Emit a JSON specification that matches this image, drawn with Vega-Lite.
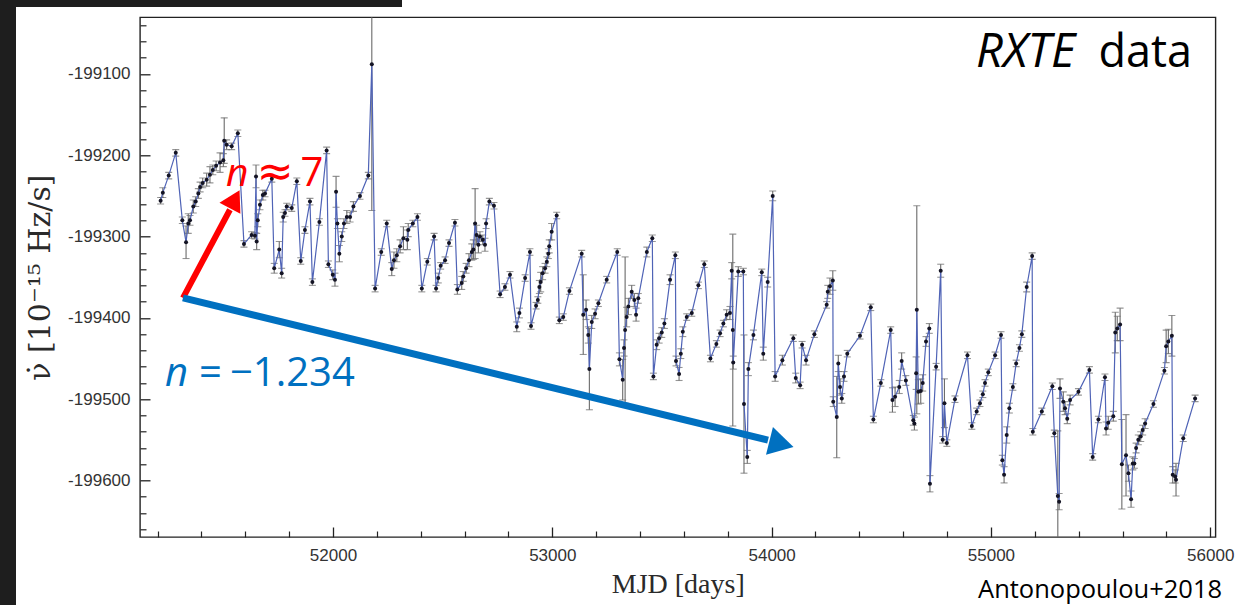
{
  "$schema": "https://vega.github.io/schema/vega-lite/v6.json",
  "width": 1075.5,
  "height": 519.7,
  "autosize": {"type": "none"},
  "padding": {"left": 140, "top": 17.3, "right": 21.5, "bottom": 68},
  "background": "white",
  "datasets": {
    "pts": [
      {"mjd":51214,"nudot":-199256,"err":4},{"mjd":51224,"nudot":-199246,"err":6},{"mjd":51251,"nudot":-199225,"err":4},{"mjd":51283,"nudot":-199197,"err":4},{"mjd":51313,"nudot":-199280,"err":4},{"mjd":51330,"nudot":-199307,"err":20},{"mjd":51340,"nudot":-199284,"err":12},{"mjd":51348,"nudot":-199280,"err":6},{"mjd":51363,"nudot":-199263,"err":8},{"mjd":51374,"nudot":-199257,"err":6},
      {"mjd":51386,"nudot":-199247,"err":6},{"mjd":51394,"nudot":-199239,"err":6},{"mjd":51406,"nudot":-199234,"err":6},{"mjd":51424,"nudot":-199230,"err":8},{"mjd":51439,"nudot":-199224,"err":10},{"mjd":51452,"nudot":-199218,"err":6},{"mjd":51467,"nudot":-199213,"err":6},{"mjd":51485,"nudot":-199209,"err":12},{"mjd":51500,"nudot":-199206,"err":8},{"mjd":51504,"nudot":-199182,"err":28},
      {"mjd":51515,"nudot":-199187,"err":6},{"mjd":51538,"nudot":-199189,"err":4},{"mjd":51566,"nudot":-199173,"err":4},{"mjd":51594,"nudot":-199309,"err":4},{"mjd":51629,"nudot":-199298,"err":4},{"mjd":51644,"nudot":-199299,"err":4},{"mjd":51649,"nudot":-199226,"err":14},{"mjd":51652,"nudot":-199306,"err":10},{"mjd":51657,"nudot":-199280,"err":8},{"mjd":51667,"nudot":-199261,"err":6},
      {"mjd":51680,"nudot":-199249,"err":6},{"mjd":51690,"nudot":-199247,"err":4},{"mjd":51721,"nudot":-199229,"err":4},{"mjd":51732,"nudot":-199339,"err":6},{"mjd":51755,"nudot":-199316,"err":10},{"mjd":51766,"nudot":-199345,"err":6},{"mjd":51773,"nudot":-199276,"err":6},{"mjd":51781,"nudot":-199271,"err":4},{"mjd":51789,"nudot":-199263,"err":4},{"mjd":51812,"nudot":-199265,"err":4},
      {"mjd":51835,"nudot":-199232,"err":4},{"mjd":51853,"nudot":-199330,"err":4},{"mjd":51872,"nudot":-199292,"err":4},{"mjd":51895,"nudot":-199257,"err":4},{"mjd":51906,"nudot":-199356,"err":4},{"mjd":51938,"nudot":-199282,"err":4},{"mjd":51971,"nudot":-199194,"err":4},{"mjd":51979,"nudot":-199334,"err":4},{"mjd":51999,"nudot":-199347,"err":6},{"mjd":52009,"nudot":-199353,"err":8},
      {"mjd":52014,"nudot":-199245,"err":19},{"mjd":52020,"nudot":-199284,"err":6},{"mjd":52029,"nudot":-199321,"err":10},{"mjd":52040,"nudot":-199300,"err":6},{"mjd":52050,"nudot":-199284,"err":6},{"mjd":52063,"nudot":-199276,"err":8},{"mjd":52078,"nudot":-199276,"err":6},{"mjd":52093,"nudot":-199263,"err":6},{"mjd":52123,"nudot":-199250,"err":4},{"mjd":52161,"nudot":-199225,"err":4},
      {"mjd":52177,"nudot":-199088,"err":180},{"mjd":52192,"nudot":-199364,"err":4},{"mjd":52220,"nudot":-199319,"err":4},{"mjd":52245,"nudot":-199284,"err":4},{"mjd":52268,"nudot":-199340,"err":8},{"mjd":52278,"nudot":-199329,"err":10},{"mjd":52291,"nudot":-199323,"err":8},{"mjd":52306,"nudot":-199312,"err":8},{"mjd":52321,"nudot":-199302,"err":14},{"mjd":52339,"nudot":-199304,"err":12},
      {"mjd":52343,"nudot":-199292,"err":8},{"mjd":52364,"nudot":-199284,"err":4},{"mjd":52385,"nudot":-199276,"err":4},{"mjd":52405,"nudot":-199364,"err":4},{"mjd":52430,"nudot":-199331,"err":4},{"mjd":52461,"nudot":-199300,"err":4},{"mjd":52470,"nudot":-199364,"err":4},{"mjd":52480,"nudot":-199351,"err":6},{"mjd":52491,"nudot":-199336,"err":4},{"mjd":52511,"nudot":-199329,"err":4},
      {"mjd":52529,"nudot":-199308,"err":4},{"mjd":52556,"nudot":-199283,"err":4},{"mjd":52567,"nudot":-199365,"err":6},{"mjd":52587,"nudot":-199357,"err":8},{"mjd":52594,"nudot":-199349,"err":6},{"mjd":52607,"nudot":-199339,"err":6},{"mjd":52620,"nudot":-199329,"err":8},{"mjd":52633,"nudot":-199319,"err":10},{"mjd":52640,"nudot":-199316,"err":12},{"mjd":52648,"nudot":-199284,"err":43},
      {"mjd":52655,"nudot":-199298,"err":12},{"mjd":52663,"nudot":-199310,"err":10},{"mjd":52670,"nudot":-199300,"err":6},{"mjd":52683,"nudot":-199304,"err":6},{"mjd":52693,"nudot":-199310,"err":8},{"mjd":52698,"nudot":-199284,"err":6},{"mjd":52713,"nudot":-199257,"err":4},{"mjd":52734,"nudot":-199262,"err":4},{"mjd":52762,"nudot":-199371,"err":4},{"mjd":52784,"nudot":-199362,"err":4},
      {"mjd":52807,"nudot":-199347,"err":4},{"mjd":52838,"nudot":-199411,"err":6},{"mjd":52850,"nudot":-199394,"err":6},{"mjd":52876,"nudot":-199351,"err":4},{"mjd":52898,"nudot":-199319,"err":4},{"mjd":52903,"nudot":-199410,"err":4},{"mjd":52926,"nudot":-199385,"err":4},{"mjd":52934,"nudot":-199378,"err":4},{"mjd":52941,"nudot":-199362,"err":8},{"mjd":52947,"nudot":-199356,"err":12},
      {"mjd":52956,"nudot":-199345,"err":8},{"mjd":52967,"nudot":-199339,"err":6},{"mjd":52975,"nudot":-199331,"err":6},{"mjd":52982,"nudot":-199321,"err":6},{"mjd":52986,"nudot":-199312,"err":8},{"mjd":52997,"nudot":-199294,"err":10},{"mjd":53020,"nudot":-199274,"err":4},{"mjd":53032,"nudot":-199403,"err":4},{"mjd":53050,"nudot":-199399,"err":4},{"mjd":53078,"nudot":-199367,"err":4},
      {"mjd":53134,"nudot":-199321,"err":4},{"mjd":53141,"nudot":-199396,"err":49},{"mjd":53154,"nudot":-199390,"err":12},{"mjd":53164,"nudot":-199421,"err":10},{"mjd":53169,"nudot":-199463,"err":50},{"mjd":53180,"nudot":-199405,"err":8},{"mjd":53195,"nudot":-199395,"err":6},{"mjd":53210,"nudot":-199382,"err":4},{"mjd":53248,"nudot":-199353,"err":4},{"mjd":53296,"nudot":-199319,"err":4},
      {"mjd":53306,"nudot":-199451,"err":8},{"mjd":53321,"nudot":-199476,"err":25},{"mjd":53327,"nudot":-199437,"err":10},{"mjd":53332,"nudot":-199415,"err":90},{"mjd":53339,"nudot":-199399,"err":12},{"mjd":53347,"nudot":-199386,"err":10},{"mjd":53362,"nudot":-199368,"err":8},{"mjd":53374,"nudot":-199378,"err":8},{"mjd":53382,"nudot":-199396,"err":8},{"mjd":53392,"nudot":-199376,"err":6},
      {"mjd":53431,"nudot":-199319,"err":6},{"mjd":53456,"nudot":-199302,"err":4},{"mjd":53461,"nudot":-199472,"err":4},{"mjd":53476,"nudot":-199433,"err":6},{"mjd":53487,"nudot":-199425,"err":6},{"mjd":53499,"nudot":-199418,"err":6},{"mjd":53511,"nudot":-199407,"err":6},{"mjd":53537,"nudot":-199353,"err":6},{"mjd":53561,"nudot":-199323,"err":4},{"mjd":53564,"nudot":-199453,"err":6},
      {"mjd":53578,"nudot":-199469,"err":8},{"mjd":53586,"nudot":-199444,"err":6},{"mjd":53595,"nudot":-199417,"err":6},{"mjd":53613,"nudot":-199399,"err":4},{"mjd":53636,"nudot":-199394,"err":4},{"mjd":53666,"nudot":-199360,"err":4},{"mjd":53693,"nudot":-199334,"err":4},{"mjd":53721,"nudot":-199450,"err":4},{"mjd":53748,"nudot":-199432,"err":4},{"mjd":53765,"nudot":-199419,"err":4},
      {"mjd":53780,"nudot":-199407,"err":4},{"mjd":53795,"nudot":-199396,"err":6},{"mjd":53810,"nudot":-199394,"err":8},{"mjd":53818,"nudot":-199342,"err":10},{"mjd":53823,"nudot":-199415,"err":118},{"mjd":53825,"nudot":-199455,"err":8},{"mjd":53848,"nudot":-199343,"err":6},{"mjd":53871,"nudot":-199343,"err":4},{"mjd":53874,"nudot":-199506,"err":85},{"mjd":53889,"nudot":-199571,"err":8},
      {"mjd":53894,"nudot":-199463,"err":8},{"mjd":53917,"nudot":-199421,"err":6},{"mjd":53955,"nudot":-199344,"err":4},{"mjd":53962,"nudot":-199444,"err":8},{"mjd":53982,"nudot":-199356,"err":6},{"mjd":54005,"nudot":-199250,"err":6},{"mjd":54016,"nudot":-199472,"err":6},{"mjd":54049,"nudot":-199452,"err":6},{"mjd":54099,"nudot":-199425,"err":4},{"mjd":54110,"nudot":-199474,"err":6},
      {"mjd":54130,"nudot":-199483,"err":4},{"mjd":54139,"nudot":-199433,"err":4},{"mjd":54157,"nudot":-199452,"err":6},{"mjd":54195,"nudot":-199420,"err":4},{"mjd":54251,"nudot":-199384,"err":4},{"mjd":54256,"nudot":-199368,"err":8},{"mjd":54266,"nudot":-199361,"err":10},{"mjd":54279,"nudot":-199354,"err":12},{"mjd":54281,"nudot":-199503,"err":6},{"mjd":54297,"nudot":-199522,"err":50},
      {"mjd":54304,"nudot":-199456,"err":10},{"mjd":54312,"nudot":-199485,"err":10},{"mjd":54320,"nudot":-199499,"err":6},{"mjd":54330,"nudot":-199472,"err":6},{"mjd":54345,"nudot":-199444,"err":4},{"mjd":54403,"nudot":-199422,"err":4},{"mjd":54452,"nudot":-199387,"err":4},{"mjd":54464,"nudot":-199525,"err":4},{"mjd":54498,"nudot":-199480,"err":4},{"mjd":54543,"nudot":-199415,"err":4},
      {"mjd":54551,"nudot":-199501,"err":15},{"mjd":54563,"nudot":-199497,"err":12},{"mjd":54582,"nudot":-199485,"err":8},{"mjd":54593,"nudot":-199453,"err":10},{"mjd":54612,"nudot":-199477,"err":6},{"mjd":54646,"nudot":-199526,"err":6},{"mjd":54651,"nudot":-199530,"err":8},{"mjd":54659,"nudot":-199468,"err":20},{"mjd":54662,"nudot":-199390,"err":128},{"mjd":54669,"nudot":-199491,"err":15},
      {"mjd":54680,"nudot":-199490,"err":15},{"mjd":54689,"nudot":-199480,"err":10},{"mjd":54704,"nudot":-199429,"err":6},{"mjd":54719,"nudot":-199413,"err":6},{"mjd":54722,"nudot":-199604,"err":10},{"mjd":54750,"nudot":-199460,"err":4},{"mjd":54771,"nudot":-199342,"err":8},{"mjd":54780,"nudot":-199550,"err":4},{"mjd":54788,"nudot":-199505,"err":30},{"mjd":54799,"nudot":-199554,"err":4},
      {"mjd":54836,"nudot":-199500,"err":4},{"mjd":54893,"nudot":-199446,"err":4},{"mjd":54913,"nudot":-199533,"err":4},{"mjd":54935,"nudot":-199515,"err":4},{"mjd":54950,"nudot":-199505,"err":4},{"mjd":54963,"nudot":-199494,"err":4},{"mjd":54973,"nudot":-199480,"err":4},{"mjd":54988,"nudot":-199467,"err":4},{"mjd":55019,"nudot":-199446,"err":4},{"mjd":55046,"nudot":-199421,"err":4},
      {"mjd":55052,"nudot":-199575,"err":6},{"mjd":55060,"nudot":-199593,"err":10},{"mjd":55072,"nudot":-199544,"err":10},{"mjd":55084,"nudot":-199511,"err":6},{"mjd":55100,"nudot":-199485,"err":4},{"mjd":55115,"nudot":-199456,"err":4},{"mjd":55130,"nudot":-199437,"err":4},{"mjd":55141,"nudot":-199420,"err":4},{"mjd":55163,"nudot":-199362,"err":6},{"mjd":55188,"nudot":-199324,"err":4},
      {"mjd":55191,"nudot":-199540,"err":4},{"mjd":55232,"nudot":-199515,"err":4},{"mjd":55280,"nudot":-199484,"err":4},{"mjd":55289,"nudot":-199542,"err":4},{"mjd":55305,"nudot":-199619,"err":80},{"mjd":55311,"nudot":-199626,"err":10},{"mjd":55315,"nudot":-199487,"err":12},{"mjd":55330,"nudot":-199503,"err":12},{"mjd":55338,"nudot":-199511,"err":8},{"mjd":55348,"nudot":-199524,"err":6},
      {"mjd":55361,"nudot":-199501,"err":6},{"mjd":55399,"nudot":-199491,"err":4},{"mjd":55449,"nudot":-199464,"err":4},{"mjd":55464,"nudot":-199571,"err":4},{"mjd":55490,"nudot":-199525,"err":4},{"mjd":55520,"nudot":-199473,"err":4},{"mjd":55525,"nudot":-199536,"err":8},{"mjd":55535,"nudot":-199529,"err":8},{"mjd":55558,"nudot":-199521,"err":6},{"mjd":55567,"nudot":-199418,"err":25},
      {"mjd":55576,"nudot":-199413,"err":15},{"mjd":55589,"nudot":-199408,"err":20},{"mjd":55597,"nudot":-199580,"err":55},{"mjd":55616,"nudot":-199569,"err":50},{"mjd":55627,"nudot":-199591,"err":10},{"mjd":55639,"nudot":-199623,"err":10},{"mjd":55647,"nudot":-199579,"err":8},{"mjd":55654,"nudot":-199579,"err":6},{"mjd":55662,"nudot":-199560,"err":6},{"mjd":55672,"nudot":-199550,"err":6},
      {"mjd":55683,"nudot":-199546,"err":6},{"mjd":55692,"nudot":-199538,"err":6},{"mjd":55703,"nudot":-199530,"err":6},{"mjd":55741,"nudot":-199506,"err":4},{"mjd":55791,"nudot":-199465,"err":4},{"mjd":55799,"nudot":-199435,"err":20},{"mjd":55809,"nudot":-199429,"err":15},{"mjd":55825,"nudot":-199422,"err":25},{"mjd":55829,"nudot":-199593,"err":10},{"mjd":55840,"nudot":-199595,"err":8},
      {"mjd":55844,"nudot":-199599,"err":20},{"mjd":55877,"nudot":-199548,"err":4},{"mjd":55931,"nudot":-199499,"err":4}
    ]
  },
  "resolve": {"axis": {"x": "independent", "y": "independent"}},
  "layer": [
    {
      "data": {"values": [{}]},
      "mark": {"type": "rect", "color": "#1e1e1e", "clip": false},
      "encoding": {
        "x": {"datum": 50380, "type": "quantitative", "scale": {"domain": [51120, 56024], "nice": false, "zero": false}, "axis": null},
        "x2": {"datum": 50554.6},
        "y": {"datum": -198990, "type": "quantitative", "scale": {"domain": [-199669.5, -199030.3], "nice": false, "zero": false}, "axis": null},
        "y2": {"datum": -199780}
      }
    },
    {
      "data": {"values": [{}]},
      "mark": {"type": "rect", "color": "#1e1e1e", "clip": false},
      "encoding": {
        "x": {"datum": 50380, "type": "quantitative", "scale": {"domain": [51120, 56024], "nice": false, "zero": false}, "axis": null},
        "x2": {"datum": 52314.7},
        "y": {"datum": -198990, "type": "quantitative", "scale": {"domain": [-199669.5, -199030.3], "nice": false, "zero": false}, "axis": null},
        "y2": {"datum": -199017.6}
      }
    },
    {
      "data": {"name": "pts"},
      "mark": {"type": "errorbar", "ticks": {"size": 7, "color": "#6a6a6a"}, "color": "#6a6a6a", "thickness": 1.1, "clip": true},
      "encoding": {
        "x": {"field": "mjd", "type": "quantitative", "scale": {"domain": [51120, 56024], "nice": false, "zero": false},
              "axis": {"orient": "bottom", "values": [51200,51400,51600,51800,52200,52400,52600,52800,53200,53400,53600,53800,54200,54400,54600,54800,55200,55400,55600,55800], "labels": false, "tickSize": -6, "tickColor": "#222222", "tickWidth": 1.2, "domain": false, "grid": false, "title": null}},
        "y": {"field": "nudot", "type": "quantitative", "scale": {"domain": [-199669.5, -199030.3], "nice": false, "zero": false},
              "axis": {"orient": "left", "values": [-199660,-199640,-199620,-199580,-199560,-199540,-199520,-199480,-199460,-199440,-199420,-199380,-199360,-199340,-199320,-199280,-199260,-199240,-199220,-199180,-199160,-199140,-199120,-199080,-199060,-199040], "labels": false, "tickSize": -6, "tickColor": "#222222", "tickWidth": 1.2, "domain": false, "grid": false, "title": null}},
        "yError": {"field": "err"}
      }
    },
    {
      "data": {"name": "pts"},
      "mark": {"type": "line", "color": "#4f63b6", "strokeWidth": 1.2, "clip": true},
      "encoding": {
        "x": {"field": "mjd", "type": "quantitative", "scale": {"domain": [51120, 56024], "nice": false, "zero": false},
              "axis": {"orient": "bottom", "values": [52000, 53000, 54000, 55000, 56000], "format": "d", "ticks": false, "domain": false, "grid": false,
                       "labelFont": "Liberation Sans", "labelFontSize": 17, "labelColor": "#333333", "labelPadding": 10,
                       "title": "MJD [days]", "titleFont": "Liberation Serif", "titleFontSize": 28, "titleFontWeight": "normal", "titleColor": "#2a2a2a", "titlePadding": 7}},
        "y": {"field": "nudot", "type": "quantitative", "scale": {"domain": [-199669.5, -199030.3], "nice": false, "zero": false},
              "axis": {"orient": "left", "values": [-199600, -199500, -199400, -199300, -199200, -199100], "labelExpr": "'-' + format(abs(datum.value), 'd')", "ticks": false, "domain": false, "grid": false,
                       "labelFont": "Liberation Sans", "labelFontSize": 17, "labelColor": "#333333", "labelPadding": 10,
                       "title": "ν̇ [10⁻¹⁵ Hz/s]", "titleFont": "DejaVu Serif", "titleFontSize": 30, "titleFontWeight": "normal", "titleColor": "#2a2a2a", "titlePadding": 12}}
      }
    },
    {
      "data": {"name": "pts"},
      "mark": {"type": "point", "filled": true, "size": 16, "color": "#141424", "opacity": 1, "clip": true},
      "encoding": {
        "x": {"field": "mjd", "type": "quantitative", "scale": {"domain": [51120, 56024], "nice": false, "zero": false},
              "axis": {"orient": "bottom", "values": [52000, 53000, 54000, 55000, 56000], "labels": false, "tickSize": -10, "tickColor": "#222222", "tickWidth": 1.3, "domain": false, "grid": false, "title": null}},
        "y": {"field": "nudot", "type": "quantitative", "scale": {"domain": [-199669.5, -199030.3], "nice": false, "zero": false},
              "axis": {"orient": "left", "values": [-199600, -199500, -199400, -199300, -199200, -199100], "labels": false, "tickSize": -10, "tickColor": "#222222", "tickWidth": 1.3, "domain": false, "grid": false, "title": null}}
      }
    },
    {
      "data": {"values": [{}]},
      "mark": {"type": "rule", "color": "#ff0000", "strokeWidth": 6, "strokeCap": "butt", "clip": false},
      "encoding": {
        "x": {"datum": 51316, "type": "quantitative", "scale": {"domain": [51120, 56024], "nice": false, "zero": false}, "axis": null},
        "x2": {"datum": 51530},
        "y": {"datum": -199375.3, "type": "quantitative", "scale": {"domain": [-199669.5, -199030.3], "nice": false, "zero": false}, "axis": null},
        "y2": {"datum": -199267}
      }
    },
    {
      "data": {"values": [{}]},
      "mark": {"type": "point", "shape": "triangle-up", "filled": true, "color": "#ff0000", "opacity": 1, "size": 560, "angle": 28, "clip": false},
      "encoding": {
        "x": {"datum": 51552, "type": "quantitative", "scale": {"domain": [51120, 56024], "nice": false, "zero": false}, "axis": null},
        "y": {"datum": -199254, "type": "quantitative", "scale": {"domain": [-199669.5, -199030.3], "nice": false, "zero": false}, "axis": null}
      }
    },
    {
      "data": {"values": [{}]},
      "mark": {"type": "rule", "color": "#0070c0", "strokeWidth": 7, "strokeCap": "butt", "clip": false},
      "encoding": {
        "x": {"datum": 51316, "type": "quantitative", "scale": {"domain": [51120, 56024], "nice": false, "zero": false}, "axis": null},
        "x2": {"datum": 53983.7},
        "y": {"datum": -199375.3, "type": "quantitative", "scale": {"domain": [-199669.5, -199030.3], "nice": false, "zero": false}, "axis": null},
        "y2": {"datum": -199550.4}
      }
    },
    {
      "data": {"values": [{}]},
      "mark": {"type": "point", "shape": "triangle-up", "filled": true, "color": "#0070c0", "opacity": 1, "size": 820, "angle": 104, "clip": false},
      "encoding": {
        "x": {"datum": 54045, "type": "quantitative", "scale": {"domain": [51120, 56024], "nice": false, "zero": false}, "axis": null},
        "y": {"datum": -199555, "type": "quantitative", "scale": {"domain": [-199669.5, -199030.3], "nice": false, "zero": false}, "axis": null}
      }
    },
    {
      "data": {"values": [{}]},
      "mark": {"type": "text", "text": "n", "font": "Open Sans", "fontStyle": "italic", "fontSize": 39, "color": "#ff0000", "align": "left", "baseline": "alphabetic"},
      "encoding": {
        "x": {"datum": 51512, "type": "quantitative", "scale": {"domain": [51120, 56024], "nice": false, "zero": false}, "axis": null},
        "y": {"datum": -199237.6, "type": "quantitative", "scale": {"domain": [-199669.5, -199030.3], "nice": false, "zero": false}, "axis": null}
      }
    },
    {
      "data": {"values": [{}]},
      "mark": {"type": "text", "text": "≈", "font": "DejaVu Sans", "fontSize": 44, "color": "#ff0000", "align": "left", "baseline": "alphabetic"},
      "encoding": {
        "x": {"datum": 51652, "type": "quantitative", "scale": {"domain": [51120, 56024], "nice": false, "zero": false}, "axis": null},
        "y": {"datum": -199237.6, "type": "quantitative", "scale": {"domain": [-199669.5, -199030.3], "nice": false, "zero": false}, "axis": null}
      }
    },
    {
      "data": {"values": [{}]},
      "mark": {"type": "text", "text": "7", "font": "Open Sans", "fontSize": 40, "color": "#ff0000", "align": "left", "baseline": "alphabetic"},
      "encoding": {
        "x": {"datum": 51852, "type": "quantitative", "scale": {"domain": [51120, 56024], "nice": false, "zero": false}, "axis": null},
        "y": {"datum": -199237.6, "type": "quantitative", "scale": {"domain": [-199669.5, -199030.3], "nice": false, "zero": false}, "axis": null}
      }
    },
    {
      "data": {"values": [{}]},
      "mark": {"type": "text", "text": "n", "font": "Open Sans", "fontStyle": "italic", "fontSize": 40, "color": "#0070c0", "align": "left", "baseline": "alphabetic"},
      "encoding": {
        "x": {"datum": 51234, "type": "quantitative", "scale": {"domain": [51120, 56024], "nice": false, "zero": false}, "axis": null},
        "y": {"datum": -199483.4, "type": "quantitative", "scale": {"domain": [-199669.5, -199030.3], "nice": false, "zero": false}, "axis": null}
      }
    },
    {
      "data": {"values": [{}]},
      "mark": {"type": "text", "text": "=", "font": "Open Sans", "fontSize": 40, "color": "#0070c0", "align": "left", "baseline": "alphabetic"},
      "encoding": {
        "x": {"datum": 51389, "type": "quantitative", "scale": {"domain": [51120, 56024], "nice": false, "zero": false}, "axis": null},
        "y": {"datum": -199483.4, "type": "quantitative", "scale": {"domain": [-199669.5, -199030.3], "nice": false, "zero": false}, "axis": null}
      }
    },
    {
      "data": {"values": [{}]},
      "mark": {"type": "text", "text": "−1.234", "font": "Open Sans", "fontSize": 40, "color": "#0070c0", "align": "left", "baseline": "alphabetic"},
      "encoding": {
        "x": {"datum": 51530, "type": "quantitative", "scale": {"domain": [51120, 56024], "nice": false, "zero": false}, "axis": null},
        "y": {"datum": -199483.4, "type": "quantitative", "scale": {"domain": [-199669.5, -199030.3], "nice": false, "zero": false}, "axis": null}
      }
    },
    {
      "data": {"values": [{}]},
      "mark": {"type": "text", "text": "RXTE", "font": "Open Sans", "fontStyle": "italic", "fontSize": 47, "color": "#000000", "align": "left", "baseline": "alphabetic"},
      "encoding": {
        "x": {"datum": 54932, "type": "quantitative", "scale": {"domain": [51120, 56024], "nice": false, "zero": false}, "axis": null},
        "y": {"datum": -199091.4, "type": "quantitative", "scale": {"domain": [-199669.5, -199030.3], "nice": false, "zero": false}, "axis": null}
      }
    },
    {
      "data": {"values": [{}]},
      "mark": {"type": "text", "text": "data", "font": "Open Sans", "fontSize": 45, "color": "#000000", "align": "right", "baseline": "alphabetic"},
      "encoding": {
        "x": {"datum": 55917, "type": "quantitative", "scale": {"domain": [51120, 56024], "nice": false, "zero": false}, "axis": null},
        "y": {"datum": -199091.4, "type": "quantitative", "scale": {"domain": [-199669.5, -199030.3], "nice": false, "zero": false}, "axis": null}
      }
    },
    {
      "data": {"values": [{}]},
      "mark": {"type": "text", "text": "Antonopoulou+2018", "font": "Open Sans", "fontSize": 25.5, "color": "#000000", "align": "right", "baseline": "alphabetic", "clip": false},
      "encoding": {
        "x": {"datum": 56054, "type": "quantitative", "scale": {"domain": [51120, 56024], "nice": false, "zero": false}, "axis": null},
        "y": {"datum": -199744, "type": "quantitative", "scale": {"domain": [-199669.5, -199030.3], "nice": false, "zero": false}, "axis": null}
      }
    }
  ],
  "config": {
    "view": {"stroke": "#222222", "strokeWidth": 1.4},
    "axis": {"grid": false, "domain": false}
  }
}
